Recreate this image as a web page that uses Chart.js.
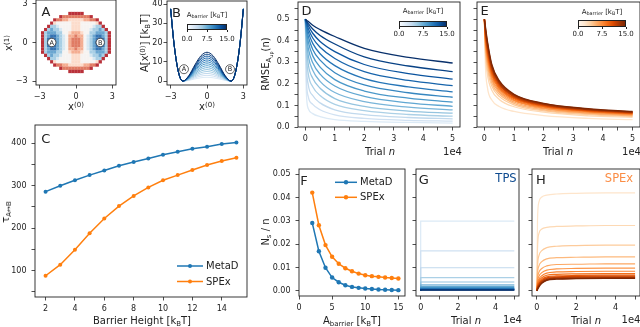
<!DOCTYPE html>
<html>
<head>
<meta charset="utf-8">
<script src="https://cdn.jsdelivr.net/npm/chart.js@4.4.1/dist/chart.umd.min.js"></script>
<style>
  html, body { margin:0; padding:0; background:#fff; }
  #fig { position:relative; width:640px; height:327px; overflow:hidden; font-family:'DejaVu Sans', sans-serif; color:#222; background:#fff; }
  #fig canvas { position:absolute; left:0; top:0; }
  .t { position:absolute; white-space:nowrap; transform:translate(-50%,-50%); font-size:10px; line-height:1; }
  .r { transform:translate(-50%,-50%) rotate(-90deg); }
  .p { font-size:13px; }
  .t sub, .t sup { font-size:70%; vertical-align:baseline; position:relative; }
  .t sub { top:0.3em; }
  .t sup { top:-0.45em; }
  .s { font-size:7px; }
  .cb { position:absolute; box-sizing:border-box; border:0.8px solid #222; }
  .tk { position:absolute; width:1px; height:2px; background:#222; }
</style>
</head>
<body>
<div id="fig">
  <canvas id="cA" width="640" height="327"></canvas>
  <canvas id="cB" width="640" height="327"></canvas>
  <canvas id="cC" width="640" height="327"></canvas>
  <canvas id="cD" width="640" height="327"></canvas>
  <canvas id="cE" width="640" height="327"></canvas>
  <canvas id="cF" width="640" height="327"></canvas>
  <canvas id="cG" width="640" height="327"></canvas>
  <canvas id="cH" width="640" height="327"></canvas>

  <div class="t p" style="left:46px;top:11px">A</div>
  <div class="t p" style="left:176.5px;top:11.5px">B</div>
  <div class="t p" style="left:306.5px;top:10px">D</div>
  <div class="t p" style="left:484.5px;top:10px">E</div>
  <div class="t p" style="left:45.7px;top:138px">C</div>
  <div class="t p" style="left:304px;top:180px">F</div>
  <div class="t p" style="left:423.7px;top:179px">G</div>
  <div class="t p" style="left:540.8px;top:179px">H</div>

  <div class="t r" style="left:9px;top:43px">x<sup>(1)</sup></div>
  <div class="t" style="left:76px;top:107px">x<sup>(0)</sup></div>
  <div class="t r" style="left:145px;top:43px">A[x<sup>(0)</sup>] [k<sub>B</sub>T]</div>
  <div class="t" style="left:207px;top:107px">x<sup>(0)</sup></div>
  <div class="t r" style="left:266px;top:64px">RMSE<sub>A<sub>up</sub></sub>(n)</div>
  <div class="t" style="left:380px;top:152px">Trial <i>n</i></div>
  <div class="t" style="left:452.5px;top:152px">1e4</div>
  <div class="t" style="left:558px;top:152px">Trial <i>n</i></div>
  <div class="t" style="left:631.5px;top:152px">1e4</div>
  <div class="t r" style="left:6px;top:212px">τ<sub>A↔B</sub></div>
  <div class="t" style="left:142px;top:321px">Barrier Height [k<sub>B</sub>T]</div>
  <div class="t r" style="left:266px;top:232px">N<sub>s</sub> / n</div>
  <div class="t" style="left:352px;top:321px">A<sub>barrier</sub> [k<sub>B</sub>T]</div>
  <div class="t" style="left:466px;top:321px">Trial <i>n</i></div>
  <div class="t" style="left:512.5px;top:320px">1e4</div>
  <div class="t" style="left:586px;top:321px">Trial <i>n</i></div>
  <div class="t" style="left:631px;top:320px">1e4</div>
  <div class="t" style="left:506px;top:179px;font-size:11.5px;color:#0d4a8f">TPS</div>
  <div class="t" style="left:619px;top:179px;font-size:11.5px;color:#fb8d45">SPEx</div>
</div>

<script>
// ---------------- DATA ----------------
const barrierHeights = [2,3,4,5,6,7,8,9,10,11,12,13,14,15];

// Panel C: mean transition time
const tauMetaD = [286,300,313,325,336,347,356,364,373,380,387,392,398,402];
const tauSPEx  = [88,114,149,188,223,252,276,296,313,325,337,349,358,366];

// Panel F: N_s / n
const nsMetaD = [0.0291,0.017,0.0099,0.0057,0.0037,0.0024,0.0017,0.0013,0.001,0.0008,0.0006,0.0005,0.0004,0.0003];
const nsSPEx  = [0.0421,0.0281,0.0196,0.0146,0.0116,0.0097,0.0084,0.0074,0.0067,0.0063,0.006,0.0057,0.0055,0.0053];

// Panels D, E, H: sampled trial numbers
const trialN = [0,300,1000,2500,5000,10000,20000,35000,50000];

// Panel D: RMSE MetaD, rows = barrier heights 2..15
const rmseMetaD = [
  [0.5,0.17,0.085,0.062,0.048,0.034,0.026,0.021,0.018],
  [0.5,0.24,0.14,0.105,0.08,0.056,0.04,0.031,0.027],
  [0.5,0.3,0.195,0.146,0.112,0.08,0.057,0.044,0.038],
  [0.5,0.35,0.245,0.187,0.146,0.105,0.076,0.058,0.05],
  [0.5,0.39,0.29,0.226,0.18,0.132,0.096,0.074,0.064],
  [0.5,0.42,0.33,0.263,0.212,0.16,0.118,0.092,0.079],
  [0.5,0.44,0.365,0.298,0.245,0.19,0.142,0.112,0.096],
  [0.5,0.455,0.395,0.33,0.278,0.22,0.167,0.134,0.115],
  [0.5,0.468,0.42,0.36,0.31,0.252,0.195,0.159,0.138],
  [0.5,0.478,0.44,0.388,0.34,0.285,0.225,0.186,0.163],
  [0.5,0.485,0.456,0.413,0.37,0.318,0.257,0.216,0.192],
  [0.5,0.49,0.47,0.435,0.397,0.35,0.29,0.248,0.222],
  [0.5,0.494,0.48,0.455,0.425,0.385,0.325,0.283,0.257],
  [0.5,0.497,0.489,0.472,0.452,0.42,0.365,0.323,0.297]
];

// Panel E: RMSE SPEx, rows = barrier heights 2..15
const rmseSPEx = [
  [0.5,0.3,0.185,0.125,0.095,0.072,0.053,0.04,0.034],
  [0.5,0.347,0.245,0.171,0.128,0.094,0.069,0.052,0.045],
  [0.5,0.367,0.269,0.19,0.142,0.103,0.075,0.058,0.049],
  [0.5,0.382,0.288,0.204,0.153,0.11,0.08,0.062,0.052],
  [0.5,0.394,0.304,0.217,0.162,0.116,0.085,0.065,0.055],
  [0.5,0.405,0.318,0.227,0.169,0.122,0.088,0.068,0.058],
  [0.5,0.415,0.331,0.237,0.177,0.126,0.092,0.071,0.06],
  [0.5,0.425,0.343,0.246,0.183,0.131,0.095,0.073,0.062],
  [0.5,0.433,0.354,0.254,0.189,0.135,0.098,0.075,0.064],
  [0.5,0.441,0.364,0.262,0.195,0.139,0.1,0.077,0.066],
  [0.5,0.449,0.374,0.27,0.2,0.142,0.103,0.079,0.067],
  [0.5,0.456,0.383,0.277,0.205,0.146,0.105,0.081,0.069],
  [0.5,0.463,0.392,0.284,0.21,0.149,0.108,0.083,0.07],
  [0.5,0.47,0.4,0.29,0.215,0.152,0.11,0.085,0.072]
];

// Panel H: N_s/n vs trial for SPEx, rows = barrier heights 2..15
const nsTrialSPEx = [
  [0,0.03,0.038,0.0402,0.041,0.0415,0.0418,0.042,0.042],
  [0,0.018,0.0245,0.0265,0.0272,0.0276,0.0278,0.028,0.028],
  [0,0.0103,0.015,0.0172,0.0185,0.0191,0.0194,0.0196,0.0196],
  [0,0.0071,0.0106,0.0125,0.0137,0.0142,0.0144,0.0146,0.0146],
  [0,0.0052,0.0079,0.0096,0.0107,0.0113,0.0114,0.0116,0.0116],
  [0,0.004,0.0062,0.0078,0.0089,0.0094,0.0096,0.0097,0.0097],
  [0,0.0031,0.005,0.0065,0.0076,0.0081,0.0083,0.0084,0.0084],
  [0,0.0024,0.0041,0.0056,0.0067,0.0071,0.0073,0.0074,0.0074],
  [0,0.002,0.0034,0.0049,0.006,0.0064,0.0066,0.0067,0.0067],
  [0,0.0016,0.003,0.0044,0.0056,0.006,0.0062,0.0063,0.0063],
  [0,0.0013,0.0026,0.0041,0.0053,0.0057,0.0059,0.006,0.006],
  [0,0.001,0.0022,0.0037,0.0049,0.0054,0.0056,0.0057,0.0057],
  [0,0.0008,0.0019,0.0034,0.0047,0.0052,0.0054,0.0055,0.0055],
  [0,0.0005,0.0016,0.0032,0.0045,0.005,0.0052,0.0053,0.0053]
];

// Panel G: N_s/n vs trial for TPS (flat levels), rows = barrier heights 2..15
const tpsTrialN = [0,0,50000];
const nsTrialTPS = [
  [0,0.0299,0.0299],[0,0.0171,0.0171],[0,0.0099,0.0099],[0,0.0057,0.0057],
  [0,0.0038,0.0038],[0,0.0026,0.0026],[0,0.0019,0.0019],[0,0.0014,0.0014],
  [0,0.0011,0.0011],[0,0.0009,0.0009],[0,0.0007,0.0007],[0,0.0005,0.0005],
  [0,0.0004,0.0004],[0,0.0003,0.0003]
];

// Panel B: 1D potential A[x0], rows = barrier heights 2..15
const potX = [-3,-2.75,-2.5,-2.25,-2,-1.5,-1,-0.5,0,0.5,1,1.5,2,2.25,2.5,2.75,3];
const potentialA = [
  [37.5,21,9.3,2.3,0,0.38,1.13,1.76,2,1.76,1.13,0.38,0,2.3,9.3,21,37.5],
  [37.5,21,9.3,2.3,0,0.57,1.69,2.64,3,2.64,1.69,0.57,0,2.3,9.3,21,37.5],
  [37.5,21,9.3,2.3,0,0.77,2.25,3.52,4,3.52,2.25,0.77,0,2.3,9.3,21,37.5],
  [37.5,21,9.3,2.3,0,0.96,2.81,4.39,5,4.39,2.81,0.96,0,2.3,9.3,21,37.5],
  [37.5,21,9.3,2.3,0,1.15,3.38,5.27,6,5.27,3.38,1.15,0,2.3,9.3,21,37.5],
  [37.5,21,9.3,2.3,0,1.34,3.94,6.15,7,6.15,3.94,1.34,0,2.3,9.3,21,37.5],
  [37.5,21,9.3,2.3,0,1.53,4.5,7.03,8,7.03,4.5,1.53,0,2.3,9.3,21,37.5],
  [37.5,21,9.3,2.3,0,1.72,5.06,7.91,9,7.91,5.06,1.72,0,2.3,9.3,21,37.5],
  [37.5,21,9.3,2.3,0,1.91,5.63,8.79,10,8.79,5.63,1.91,0,2.3,9.3,21,37.5],
  [37.5,21,9.3,2.3,0,2.1,6.19,9.67,11,9.67,6.19,2.1,0,2.3,9.3,21,37.5],
  [37.5,21,9.3,2.3,0,2.29,6.75,10.55,12,10.55,6.75,2.29,0,2.3,9.3,21,37.5],
  [37.5,21,9.3,2.3,0,2.48,7.31,11.43,13,11.43,7.31,2.48,0,2.3,9.3,21,37.5],
  [37.5,21,9.3,2.3,0,2.67,7.88,12.31,14,12.31,7.88,2.67,0,2.3,9.3,21,37.5],
  [37.5,21,9.3,2.3,0,2.87,8.44,13.18,15,13.18,8.44,2.87,0,2.3,9.3,21,37.5]
];

// Panel A: 2D potential read as contour levels (0 = deepest blue ... 9 = dark red, '.' = empty)
const gridX0 = [-3,-2.75,-2.5,-2.25,-2,-1.75,-1.5,-1.25,-1,-0.75,-0.5,-0.25,0,0.25,0.5,0.75,1,1.25,1.5,1.75,2,2.25,2.5,2.75,3];
const gridX1 = [2.25,2,1.75,1.5,1.25,1,0.75,0.5,0.25,0,-0.25,-0.5,-0.75,-1,-1.25,-1.5,-1.75,-2,-2.25];
const gridLevels = [
  "..........99999..........",
  ".......98888888889.......",
  ".....988776666677889.....",
  "....96555556665555569....",
  "...9334555566655554339...",
  "..932334555666555433239..",
  ".93222335567776553322239.",
  ".93211234577877543211239.",
  ".93101234578887543210139.",
  ".93100234578887543200139.",
  ".93101234578887543210139.",
  ".93211234577877543211239.",
  ".93222335567776553322239.",
  "..932334555666555433239..",
  "...9334555566655554339...",
  "....96555556665555569....",
  ".....988776666677889.....",
  ".......98888888889.......",
  "..........99999.........."
];
const stateNames = ['A','B'];
const stateX0 = [-2, 2];
const stateYA = [0, 0];
const stateXB = [-1.9, 1.9];
const stateYB = [6.2, 6.2];

const cbarTicks = [0, 7.5, 15];

// ---------------- STYLE HELPERS ----------------
const BLUES = ['#f7fbff','#deebf7','#c6dbef','#9ecae1','#6baed6','#4292c6','#2171b5','#08519c','#08306b'];
const ORANGES = ['#fff5eb','#fee6ce','#fdd0a2','#fdae6b','#fd8d3c','#f16913','#d94801','#a63603','#7f2704'];
const levelColors = ['#1d4f8c','#3473b3','#6aa6d0','#a8cfe5','#d7e8f2','#f6f3f1','#fcdccb','#f4ad91','#e07b63','#b9313a'];
function hx(h){ return [parseInt(h.slice(1,3),16), parseInt(h.slice(3,5),16), parseInt(h.slice(5,7),16)]; }
function cmap(stops, t){
  t = Math.max(0, Math.min(1, t));
  const p = t*(stops.length-1); const i = Math.min(Math.floor(p), stops.length-2); const f = p-i;
  const a = hx(stops[i]), b = hx(stops[i+1]);
  return 'rgb(' + a.map((v,k)=>Math.round(v+(b[k]-v)*f)).join(',') + ')';
}

Chart.defaults.font.family = "'DejaVu Sans', sans-serif";
const W = 640, H = 327, YW = 30, XH = 20;
const TICKC = '#222';

function scale(pos, min, max, ticks, fmt, pad){
  return {
    type:'linear', position:pos, min:min, max:max,
    afterBuildTicks: s => { s.ticks = ticks.map(v => ({value:v})); },
    afterFit: s => {
      if (s.isHorizontal()) s.height = XH; else s.width = YW;
      s.paddingLeft = 0; s.paddingRight = 0; s.paddingTop = 0; s.paddingBottom = 0;
    },
    ticks: { autoSkip:false, maxRotation:0, minRotation:0, padding: pad,
             font:{ family:"'DejaVu Sans', sans-serif", size:8 }, color:TICKC,
             callback: v => fmt(v) },
    grid: { drawOnChartArea:false, drawTicks:true, tickLength:3.5, color:TICKC, lineWidth:0.8 },
    border: { display:false }
  };
}
const xs = (min,max,ticks,fmt) => scale('bottom',min,max,ticks,fmt,4);
const ys = (min,max,ticks,fmt,pad) => scale('left',min,max,ticks,fmt,pad === undefined ? 5 : pad);

function opts(box, xScale, yScale, plug){
  return {
    responsive:false, animation:false, events:[], devicePixelRatio:1,
    layout:{ autoPadding:false, padding:{ left:box.l-YW, top:box.t, right:W-box.r, bottom:H-box.b-XH } },
    scales:{ x:xScale, y:yScale },
    plugins: Object.assign({ legend:{display:false}, tooltip:{enabled:false} }, plug || {})
  };
}

const framePlugin = { id:'frame', afterDraw(chart){
  const {ctx, chartArea:a} = chart; ctx.save(); ctx.strokeStyle = TICKC; ctx.lineWidth = 0.9;
  ctx.strokeRect(a.left, a.top, a.right-a.left, a.bottom-a.top); ctx.restore(); } };

const legendPlugin = { id:'miniLegend', afterDraw(chart, args, o){
  if (!o || o.x0 === undefined) return;
  const ctx = chart.ctx; ctx.save();
  chart.data.datasets.forEach((d,i) => {
    const y = o.y + i*o.dy;
    ctx.strokeStyle = d.borderColor; ctx.lineWidth = 1.5;
    ctx.beginPath(); ctx.moveTo(o.x0,y); ctx.lineTo(o.x1,y); ctx.stroke();
    ctx.fillStyle = d.borderColor; ctx.beginPath(); ctx.arc((o.x0+o.x1)/2, y, o.r, 0, Math.PI*2); ctx.fill();
    ctx.fillStyle = TICKC; ctx.font = "10px 'DejaVu Sans'"; ctx.textBaseline = 'middle'; ctx.textAlign = 'left';
    ctx.fillText(d.label, o.tx, y+0.5);
  });
  ctx.restore(); } };

const statePlugin = { id:'states', afterDatasetsDraw(chart, args, o){
  if (!o || !o.pts) return;
  const {ctx, scales:{x, y}} = chart; ctx.save();
  o.pts.forEach(p => {
    const px = x.getPixelForValue(p.x), py = y.getPixelForValue(p.y);
    ctx.beginPath(); ctx.arc(px, py, o.r, 0, Math.PI*2); ctx.fillStyle = '#fff'; ctx.fill();
    ctx.lineWidth = 0.7; ctx.strokeStyle = TICKC; ctx.stroke();
    ctx.fillStyle = TICKC; ctx.font = o.font; ctx.textAlign = 'center'; ctx.textBaseline = 'middle';
    ctx.fillText(p.t, px, py+0.5);
  });
  ctx.restore(); } };

const fmtInt = v => v < 0 ? '\u2212' + Math.abs(v) : String(v);
const fmtNone = () => '';
const fmtE4 = step => v => (Math.round(v) % step === 0) ? String(v/10000) : '';
const fmt1 = v => (Math.abs(v*10 - Math.round(v*10)) < 1e-6) ? v.toFixed(1) : '';

// ---------------- PANEL A ----------------
const cellsA = [];
gridLevels.forEach((row, j) => {
  for (let i = 0; i < row.length; i++) {
    const ch = row[i];
    if (ch !== '.') cellsA.push({x:gridX0[i], y:gridX1[j], v:+ch});
  }
});
new Chart(document.getElementById('cA'), {
  type:'scatter',
  data:{ datasets:[{ data:cellsA, pointStyle:'rect', pointRadius:2.35, pointBorderWidth:0, borderWidth:0,
    pointBackgroundColor: c => (c.raw ? levelColors[c.raw.v] : '#fff') }] },
  options: opts({l:36,t:0,r:116,b:85},
    xs(-3.3,3.3,[-3,0,3],fmtInt), ys(-3.3,3.3,[-3,0,3],fmtInt),
    { states:{ pts: stateNames.map((n,i)=>({x:stateX0[i], y:stateYA[i], t:n})), r:4.2, font:"6.5px 'DejaVu Sans'" } }),
  plugins:[framePlugin, statePlugin]
});

// ---------------- PANEL B ----------------
new Chart(document.getElementById('cB'), {
  type:'line',
  data:{ datasets: barrierHeights.map((a,k) => ({
    data: potX.map((x,i) => ({x:x, y:potentialA[k][i]})),
    borderColor: cmap(BLUES, a/15), borderWidth:1, pointRadius:0, cubicInterpolationMode:'monotone', fill:false
  })).reverse() },
  options: opts({l:167,t:1,r:247,b:85},
    xs(-3.3,3.3,[-3,0,3],fmtInt), ys(-2,41.6,[0,10,20,30,40],fmtInt,1),
    { states:{ pts: stateNames.map((n,i)=>({x:stateXB[i], y:stateYB[i], t:n})), r:4.5, font:"6.5px 'DejaVu Sans'" } }),
  plugins:[framePlugin, statePlugin]
});

// ---------------- PANEL C ----------------
function markerSeries(label, xsArr, ysArr, color, r){
  return { label:label, data: xsArr.map((x,i)=>({x:x, y:ysArr[i]})), borderColor:color, backgroundColor:color,
    pointBackgroundColor:color, pointBorderColor:color, pointBorderWidth:0, pointRadius:r, borderWidth:1.5, fill:false, tension:0 };
}
new Chart(document.getElementById('cC'), {
  type:'line',
  data:{ datasets:[ markerSeries('MetaD', barrierHeights, tauMetaD, '#1f77b4', 2),
                    markerSeries('SPEx', barrierHeights, tauSPEx, '#ff7f0e', 2) ] },
  options: opts({l:35,t:125,r:247,b:297},
    xs(1.28,15.72,[2,4,6,8,10,12,14],fmtInt),
    ys(38,443,[50,100,150,200,250,300,350,400], v => v % 100 === 0 ? String(v) : ''),
    { miniLegend:{ x0:177, x1:203, y:266, dy:15.5, tx:206, r:2 } }),
  plugins:[framePlugin, legendPlugin]
});

// ---------------- PANEL D ----------------
const trialTicksHalf = [0,5000,10000,15000,20000,25000,30000,35000,40000,45000,50000];
const rmseTicks = [0,0.05,0.1,0.15,0.2,0.25,0.3,0.35,0.4,0.45,0.5,0.55];
new Chart(document.getElementById('cD'), {
  type:'line',
  data:{ datasets: barrierHeights.map((a,k) => ({
    data: trialN.map((n,i) => ({x:n, y:rmseMetaD[k][i]})),
    borderColor: cmap(BLUES, a/15), borderWidth:1.3, pointRadius:0, cubicInterpolationMode:'monotone', fill:false
  })).reverse() },
  options: opts({l:298,t:2,r:460,b:127},
    xs(-2500,52500,trialTicksHalf,fmtE4(10000)), ys(0,0.58,rmseTicks,fmt1)),
  plugins:[framePlugin]
});

// ---------------- PANEL E ----------------
new Chart(document.getElementById('cE'), {
  type:'line',
  data:{ datasets: barrierHeights.map((a,k) => ({
    data: trialN.map((n,i) => ({x:n, y:rmseSPEx[k][i]})),
    borderColor: cmap(ORANGES, a/15), borderWidth:1.3, pointRadius:0, cubicInterpolationMode:'monotone', fill:false
  })).reverse() },
  options: opts({l:477,t:2,r:640,b:127},
    xs(-2500,52500,trialTicksHalf,fmtE4(10000)), ys(0,0.58,rmseTicks,fmtNone)),
  plugins:[framePlugin]
});

// ---------------- PANEL F ----------------
const nsTicks = [0,0.01,0.02,0.03,0.04,0.05];
new Chart(document.getElementById('cF'), {
  type:'line',
  data:{ datasets:[ markerSeries('MetaD', barrierHeights, nsMetaD, '#1f77b4', 2.2),
                    markerSeries('SPEx', barrierHeights, nsSPEx, '#ff7f0e', 2.2) ] },
  options: opts({l:299,t:169,r:405,b:296},
    xs(0,16,[0,5,10,15],fmtInt), ys(-0.0022,0.0522,nsTicks, v => v.toFixed(2)),
    { miniLegend:{ x0:335, x1:357, y:182.3, dy:15, tx:360, r:2.2 } }),
  plugins:[framePlugin, legendPlugin]
});

// ---------------- PANEL G ----------------
const trialTicksOne = [0,10000,20000,30000,40000,50000];
new Chart(document.getElementById('cG'), {
  type:'line',
  data:{ datasets: barrierHeights.map((a,k) => ({
    data: tpsTrialN.map((n,i) => ({x:n, y:nsTrialTPS[k][i]})),
    borderColor: cmap(BLUES, a/15), borderWidth:1.2, pointRadius:0, tension:0, fill:false
  })).reverse() },
  options: opts({l:416,t:169,r:519,b:296},
    xs(-2500,52500,trialTicksOne,fmtE4(20000)), ys(-0.0022,0.0522,nsTicks,fmtNone)),
  plugins:[framePlugin]
});

// ---------------- PANEL H ----------------
new Chart(document.getElementById('cH'), {
  type:'line',
  data:{ datasets: barrierHeights.map((a,k) => ({
    data: trialN.map((n,i) => ({x:n, y:nsTrialSPEx[k][i]})),
    borderColor: cmap(ORANGES, a/15), borderWidth:1.2, pointRadius:0, cubicInterpolationMode:'monotone', fill:false
  })).reverse() },
  options: opts({l:532,t:169,r:640,b:296},
    xs(-2500,52500,trialTicksOne,fmtE4(20000)), ys(-0.0022,0.0522,nsTicks,fmtNone)),
  plugins:[framePlugin]
});

// ---------------- COLORBARS ----------------
const fig = document.getElementById('fig');
function addColorbar(stops, l, t, w, h, labelY, tickLabelY){
  const bar = document.createElement('div');
  bar.className = 'cb';
  bar.style.cssText = `left:${l}px;top:${t}px;width:${w}px;height:${h}px;background:linear-gradient(to right, ${stops.join(',')});`;
  fig.appendChild(bar);
  const lab = document.createElement('div');
  lab.className = 't s';
  lab.style.cssText = `left:${l + w/2}px;top:${labelY}px;`;
  lab.innerHTML = 'A<sub>barrier</sub> [k<sub>B</sub>T]';
  fig.appendChild(lab);
  cbarTicks.forEach(v => {
    const px = l + w * v / 15;
    const tk = document.createElement('div');
    tk.className = 'tk';
    tk.style.cssText = `left:${px - 0.5}px;top:${t + h}px;`;
    fig.appendChild(tk);
    const tl = document.createElement('div');
    tl.className = 't s';
    tl.style.cssText = `left:${px}px;top:${tickLabelY}px;`;
    tl.textContent = v.toFixed(1);
    fig.appendChild(tl);
  });
}
addColorbar(BLUES, 187, 24, 40, 5.5, 15, 38.5);
addColorbar(BLUES, 399, 20.5, 48, 6.5, 11, 34);
addColorbar(ORANGES, 578, 20, 48, 6.5, 11.5, 34);
</script>
</body>
</html>
